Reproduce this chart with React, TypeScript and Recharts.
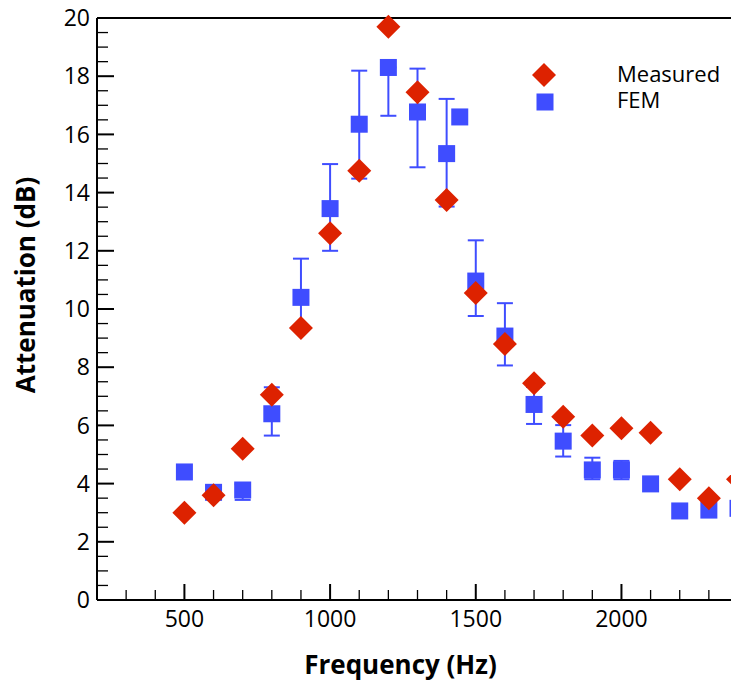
import {
  ScatterChart,
  Scatter,
  XAxis,
  YAxis,
  ErrorBar,
  ReferenceLine,
  Legend,
  Label,
} from "recharts";

// measured attenuation (red diamonds)
const measuredFreq = [
  500, 600, 700, 800, 900, 1000, 1100, 1200, 1300, 1400, 1500, 1600, 1700,
  1800, 1900, 2000, 2100, 2200, 2300, 2400,
];
const measuredValues = [
  3.0, 3.6, 5.2, 7.05, 9.35, 12.6, 14.75, 19.7, 17.45, 13.75, 10.55, 8.8, 7.45,
  6.3, 5.65, 5.9, 5.75, 4.15, 3.5, 4.15,
];

// FEM results (blue squares) with asymmetric error bars
const femFreq = [
  500, 600, 700, 800, 900, 1000, 1100, 1200, 1300, 1400, 1445, 1500, 1600,
  1700, 1800, 1900, 2000, 2100, 2200, 2300, 2400,
];
const femValues = [
  4.4, 3.7, 3.78, 6.4, 10.4, 13.45, 16.35, 18.3, 16.77, 15.34, 16.6, 10.96,
  9.07, 6.72, 5.46, 4.47, 4.47, 3.99, 3.06, 3.09, 3.15,
];
const femErrLow = [
  null, null, 0.34, 0.75, 1.1, 1.45, 1.87, 1.66, 1.9, 1.82, null, 1.2, 1.01,
  0.67, 0.53, 0.32, 0.32, null, null, null, null,
];
const femErrHigh = [
  null, null, 0.2, 0.91, 1.33, 1.53, 1.84, 0, 1.49, 1.88, null, 1.4, 1.13,
  0.6, 0.55, 0.42, 0.31, null, null, null, null,
];

const xMajorTicks = [500, 1000, 1500, 2000];
const xTicks = [
  300, 400, 500, 600, 700, 800, 900, 1000, 1100, 1200, 1300, 1400, 1500, 1600,
  1700, 1800, 1900, 2000, 2100, 2200, 2300,
];
const yMajorTicks = [0, 2, 4, 6, 8, 10, 12, 14, 16, 18, 20];
const yTicks = [
  0, 0.5, 1, 1.5, 2, 2.5, 3, 3.5, 4, 4.5, 5, 5.5, 6, 6.5, 7, 7.5, 8, 8.5, 9,
  9.5, 10, 10.5, 11, 11.5, 12, 12.5, 13, 13.5, 14, 14.5, 15, 15.5, 16, 16.5,
  17, 17.5, 18, 18.5, 19, 19.5, 20,
];

const RED = "#dd2200";
const BLUE = "#3f4dff";
const FONT = "'Open Sans', sans-serif";

const measuredData = measuredFreq.map((f, i) => ({ f, v: measuredValues[i] }));
const femData = femFreq.map((f, i) => ({
  f,
  v: femValues[i],
  err: femErrLow[i] == null ? undefined : [femErrLow[i], femErrHigh[i]],
}));

const Diamond = ({ cx, cy }: any) => (
  <polygon
    points={`${cx},${cy - 12} ${cx + 12},${cy} ${cx},${cy + 12} ${cx - 12},${cy}`}
    fill={RED}
  />
);

const Square = ({ cx, cy }: any) => (
  <rect x={cx - 8.5} y={cy - 8.5} width={17} height={17} fill={BLUE} />
);

const XTick = ({ x, y, payload }: any) => {
  const major = xMajorTicks.includes(payload.value);
  return (
    <g>
      <line
        x1={x}
        y1={y}
        x2={x}
        y2={y - (major ? 16 : 10)}
        stroke="#000"
        strokeWidth={major ? 2 : 1.3}
      />
      {major && (
        <text
          x={x}
          y={y + 27}
          textAnchor="middle"
          fontSize={23}
          fontFamily={FONT}
          fill="#000"
        >
          {payload.value}
        </text>
      )}
    </g>
  );
};

const YTick = ({ x, y, payload }: any) => {
  const major = yMajorTicks.includes(payload.value);
  return (
    <g>
      <line
        x1={x}
        y1={y}
        x2={x + (major ? 17 : 11)}
        y2={y}
        stroke="#000"
        strokeWidth={major ? 2 : 1.3}
      />
      {major && (
        <text
          x={x - 7}
          y={y}
          dy="0.36em"
          textAnchor="end"
          fontSize={23}
          fontFamily={FONT}
          fill="#000"
        >
          {payload.value}
        </text>
      )}
    </g>
  );
};

const LegendBox = () => (
  <svg width={220} height={62}>
    <Diamond cx={24} cy={20} />
    <Square cx={25} cy={47} />
    <text x={97} y={27} fontSize={22} fontFamily={FONT} fill="#000">
      Measured
    </text>
    <text x={97} y={53} fontSize={22} fontFamily={FONT} fill="#000">
      FEM
    </text>
  </svg>
);

export default function App() {
  return (
    <ScatterChart
      width={731}
      height={673}
      margin={{ top: 10, right: 1, bottom: 0, left: 0 }}
    >
      <XAxis
        type="number"
        dataKey="f"
        domain={[200, 2400]}
        ticks={xTicks}
        interval={0}
        tickSize={0}
        tickMargin={0}
        axisLine={{ stroke: "#000", strokeWidth: 2 }}
        tick={<XTick />}
        height={81}
      >
        <Label
          content={({ viewBox }: any) => (
            <text
              x={(viewBox?.x ?? 89) + (viewBox?.width ?? 641) / 2 - 17}
              y={(viewBox?.y ?? 592) + 74}
              textAnchor="middle"
              fontSize={26}
              fontWeight="bold"
              fontFamily={FONT}
              fill="#000"
            >
              Frequency (Hz)
            </text>
          )}
        />
      </XAxis>
      <YAxis
        type="number"
        dataKey="v"
        domain={[0, 20]}
        ticks={yTicks}
        interval={0}
        tickSize={0}
        tickMargin={0}
        axisLine={{ stroke: "#000", strokeWidth: 2 }}
        tick={<YTick />}
        width={89}
      >
        <Label
          content={({ viewBox }: any) => {
            const cx = 27;
            const cy = (viewBox?.y ?? 10) + (viewBox?.height ?? 582) / 2 - 24;
            return (
              <text
                x={cx}
                y={cy}
                transform={`rotate(-90, ${cx}, ${cy})`}
                textAnchor="middle"
                fontSize={26}
                fontWeight="bold"
                fontFamily={FONT}
                fill="#000"
              >
                Attenuation (dB)
              </text>
            );
          }}
        />
      </YAxis>
      <ReferenceLine y={20} stroke="#000" strokeWidth={2} ifOverflow="visible" />
      <ReferenceLine x={2400} stroke="#000" strokeWidth={2} ifOverflow="visible" />
      <Legend
        layout="horizontal"
        verticalAlign="middle"
        align="center"
        content={<LegendBox />}
        wrapperStyle={{ top: 47, left: 512, width: 220, height: 62 }}
      />
      <Scatter
        name="FEM"
        data={femData}
        shape={<Square />}
        isAnimationActive={false}
      >
        <ErrorBar
          dataKey="err"
          direction="y"
          width={8}
          stroke={BLUE}
          strokeWidth={2}
          isAnimationActive={false}
        />
      </Scatter>
      <Scatter
        name="Measured"
        data={measuredData}
        shape={<Diamond />}
        isAnimationActive={false}
      />
    </ScatterChart>
  );
}
